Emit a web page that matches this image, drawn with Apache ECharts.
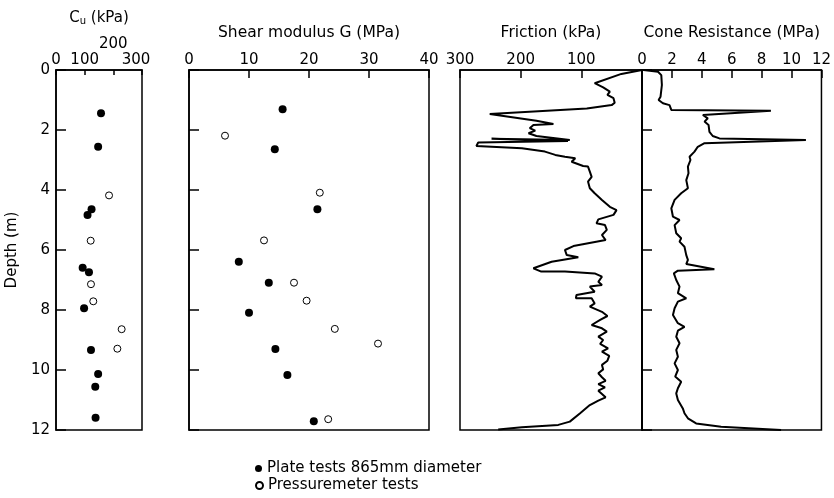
<!DOCTYPE html>
<html>
<head>
<meta charset="utf-8">
<title>Depth profiles</title>
<script src="https://cdn.jsdelivr.net/npm/echarts@6/dist/echarts.min.js"></script>
<style>
  html, body { margin: 0; padding: 0; background: #fff; }
  #chart { width: 834px; height: 498px; }
</style>
</head>
<body>
<div id="chart"></div>
<script>
// undrained shear strength Cu (kPa) vs depth (m)
var cuPlateDepth = [1.44, 2.56, 4.64, 4.83, 6.59, 6.74, 7.94, 9.33, 10.13, 10.56, 11.59];
var cuPlate = [157, 147, 124, 110, 93, 115, 98, 122, 147, 137, 138];
var cuPressDepth = [4.18, 5.69, 7.14, 7.71, 8.64, 9.29];
var cuPress = [185, 121, 122, 130, 229, 214];

// shear modulus G (MPa)
var gPlateDepth = [1.31, 2.64, 4.64, 6.39, 7.09, 8.09, 9.3, 10.17, 11.71];
var gPlate = [15.6, 14.3, 21.4, 8.3, 13.3, 10.0, 14.4, 16.4, 20.8];
var gPressDepth = [2.19, 4.09, 5.68, 7.09, 7.69, 8.63, 9.12, 11.64];
var gPress = [6.0, 21.8, 12.5, 17.5, 19.6, 24.3, 31.5, 23.2];

// sleeve friction (kPa)
var frictionDepth = [0, 0.13, 0.44, 0.58, 0.72, 0.83, 0.94, 1.09, 1.17, 1.28, 1.47, 1.69, 1.80, 1.83, 1.94,
  2.02, 2.11, 2.20, 2.33, 2.29, 2.37, 2.42, 2.53, 2.61, 2.72, 2.83, 2.89, 2.94, 3.06, 3.20, 3.22, 3.39,
  3.56, 3.72, 3.94, 4.11, 4.33, 4.56, 4.67, 4.83, 4.98, 5.11, 5.17, 5.33, 5.50, 5.67, 5.87, 6.00, 6.17,
  6.24, 6.39, 6.61, 6.72, 6.72, 6.78, 6.89, 7.06, 7.17, 7.22, 7.39, 7.50, 7.61, 7.61, 7.78, 7.89, 8.06,
  8.20, 8.33, 8.50, 8.61, 8.72, 8.89, 9.00, 9.13, 9.28, 9.39, 9.53, 9.69, 9.83, 9.98, 10.11, 10.24, 10.36,
  10.47, 10.58, 10.69, 10.80, 10.91, 11.02, 11.17, 11.44, 11.72, 11.83, 11.91, 11.98];
var friction = [0, 34, 78, 64, 53, 57, 47, 45, 50, 91, 251, 174, 146, 179, 185,
  176, 187, 174, 119, 248, 122, 270, 273, 198, 160, 143, 127, 110, 116, 97, 89, 86,
  83, 89, 86, 78, 66, 53, 42, 47, 72, 75, 61, 58, 66, 60, 113, 127, 124,
  105, 149, 179, 166, 127, 78, 66, 72, 66, 86, 78, 108, 109, 83, 78, 86, 66,
  57, 69, 83, 66, 58, 72, 64, 69, 56, 66, 54, 57, 66, 64, 72, 66, 60,
  72, 61, 72, 66, 60, 72, 86, 102, 119, 138, 198, 237];

// cone resistance (MPa)
var coneDepth = [0, 0.06, 0.17, 0.5, 0.89, 1.0, 1.11, 1.17, 1.33, 1.36, 1.5, 1.61, 1.72, 1.83, 2.06, 2.2,
  2.28, 2.33, 2.44, 2.56, 2.72, 2.89, 3.0, 3.22, 3.44, 3.67, 3.94, 4.11, 4.33, 4.61, 4.89, 5.0, 5.17,
  5.44, 5.61, 5.72, 5.89, 6.17, 6.33, 6.47, 6.64, 6.69, 6.78, 7.0, 7.22, 7.44, 7.61, 7.72, 7.94, 8.17,
  8.44, 8.56, 8.69, 8.89, 9.11, 9.33, 9.56, 9.78, 10.0, 10.22, 10.39, 10.61, 10.78, 11.0, 11.28, 11.44,
  11.61, 11.78, 11.89, 12.0];
var cone = [0.1, 1.07, 1.29, 1.33, 1.24, 1.11, 1.4, 1.84, 1.96, 8.62, 4.07, 4.4, 4.18, 4.45, 4.51, 4.73,
  5.18, 10.96, 4.18, 3.73, 3.51, 3.18, 3.24, 3.07, 3.11, 2.96, 3.07, 2.62, 2.18, 1.96, 2.07, 2.51, 2.18,
  2.29, 2.62, 2.51, 2.84, 2.96, 3.07, 2.96, 4.84, 2.4, 2.13, 2.29, 2.51, 2.4, 2.96, 2.4, 2.18, 2.07,
  2.4, 2.84, 2.4, 2.29, 2.51, 2.29, 2.4, 2.18, 2.4, 2.22, 2.62, 2.4, 2.29, 2.4, 2.73, 2.84,
  3.07, 3.62, 5.29, 9.3];

var plateName = 'Plate tests 865mm diameter';
var pressName = 'Pressuremeter tests';

var font = 'DejaVu Sans';

function pairs(xs, ys) {
  return xs.map(function (x, i) { return [x, ys[i]]; });
}

function depthAxis(i) {
  return {
    gridIndex: i,
    type: 'value',
    min: 0,
    max: 12,
    interval: 2,
    inverse: true,
    name: i === 0 ? 'Depth (m)' : '',
    nameLocation: 'middle',
    nameGap: 36,
    nameTextStyle: {color: '#000', fontSize: 15, fontFamily: font},
    axisLine: {show: true, lineStyle: {color: '#000', width: 1.5}},
    axisTick: {show: true, inside: true, length: 10, lineStyle: {color: '#000', width: 1.5}},
    axisLabel: {
      show: i === 0, color: '#000', fontSize: 15, fontFamily: font, margin: 6,
      showMinLabel: true, showMaxLabel: true, hideOverlap: false
    },
    splitLine: {show: false}
  };
}

function topAxis(i, opts) {
  var axis = {
    gridIndex: i,
    type: 'value',
    position: 'top',
    nameLocation: 'middle',
    nameGap: 29,
    nameTextStyle: {color: '#000', fontSize: 15.5, fontFamily: font},
    axisLine: {show: true, lineStyle: {color: '#000', width: 1.5}},
    axisTick: {show: true, inside: true, length: 8, lineStyle: {color: '#000', width: 1.5}},
    axisLabel: {
      color: '#000', fontSize: 15, fontFamily: font, margin: 2,
      showMinLabel: true, showMaxLabel: true, hideOverlap: false
    },
    splitLine: {show: false}
  };
  return Object.assign(axis, opts);
}

function gridBox(left, width) {
  return {left: left, width: width, top: 70, height: 360, show: true, borderColor: '#000', borderWidth: 1.5};
}

var chart = echarts.init(document.getElementById('chart'));

chart.setOption({
  animation: false,
  backgroundColor: '#fff',
  grid: [
    gridBox(56, 86),
    gridBox(189, 240),
    gridBox(460, 182),
    gridBox(642, 180)
  ],
  xAxis: [
    topAxis(0, {
      min: 0, max: 300, interval: 100,
      name: '{a|C}{s|u}{a| (kPa)}',
      nameGap: 44,
      nameTextStyle: {
        rich: {
          a: {color: '#000', fontSize: 15, fontFamily: font},
          s: {color: '#000', fontSize: 10, fontFamily: font, verticalAlign: 'bottom'}
        }
      },
      axisTick: {show: true, inside: true, length: 5, lineStyle: {color: '#000', width: 1.5}},
      axisLabel: {
        color: '#000', fontSize: 15, fontFamily: font, margin: 2,
        showMinLabel: true, showMaxLabel: true, hideOverlap: false,
        formatter: function (v) {
          if (v === 200) return '{up|200}';
          if (v === 300) return '{r|300}';
          return v;
        },
        rich: {
          up: {color: '#000', fontSize: 15, fontFamily: font, padding: [0, 0, 16, 0]},
          r: {color: '#000', fontSize: 15, fontFamily: font, padding: [0, 12, 0, 0]}
        }
      }
    }),
    topAxis(1, {min: 0, max: 40, interval: 10, name: 'Shear modulus G (MPa)'}),
    topAxis(2, {
      min: 0, max: 300, interval: 100, inverse: true, name: 'Friction (kPa)',
      axisLabel: {
        color: '#000', fontSize: 15, fontFamily: font, margin: 2,
        showMinLabel: true, showMaxLabel: true, hideOverlap: false,
        formatter: function (v) { return v === 0 ? '' : v; }
      }
    }),
    topAxis(3, {min: 0, max: 12, interval: 2, name: 'Cone Resistance (MPa)'})
  ],
  yAxis: [depthAxis(0), depthAxis(1), depthAxis(2), depthAxis(3)],
  legend: [
    {
      data: [plateName], left: 250, top: 456, itemWidth: 7, itemHeight: 7,
      textStyle: {color: '#000', fontSize: 15, fontFamily: font}
    },
    {
      data: [pressName], left: 250, top: 473, itemWidth: 7, itemHeight: 7,
      textStyle: {color: '#000', fontSize: 15, fontFamily: font}
    }
  ],
  series: [
    {
      name: plateName, type: 'scatter', xAxisIndex: 0, yAxisIndex: 0,
      symbol: 'circle', symbolSize: 8,
      itemStyle: {color: '#000', opacity: 1},
      data: pairs(cuPlate, cuPlateDepth)
    },
    {
      name: pressName, type: 'scatter', xAxisIndex: 0, yAxisIndex: 0,
      symbol: 'circle', symbolSize: 7,
      itemStyle: {color: '#fff', borderColor: '#000', borderWidth: 1, opacity: 1},
      data: pairs(cuPress, cuPressDepth)
    },
    {
      name: plateName, type: 'scatter', xAxisIndex: 1, yAxisIndex: 1,
      symbol: 'circle', symbolSize: 8,
      itemStyle: {color: '#000', opacity: 1},
      data: pairs(gPlate, gPlateDepth)
    },
    {
      name: pressName, type: 'scatter', xAxisIndex: 1, yAxisIndex: 1,
      symbol: 'circle', symbolSize: 7,
      itemStyle: {color: '#fff', borderColor: '#000', borderWidth: 1, opacity: 1},
      data: pairs(gPress, gPressDepth)
    },
    {
      name: 'Friction', type: 'line', xAxisIndex: 2, yAxisIndex: 2,
      showSymbol: false, symbol: 'none',
      lineStyle: {color: '#000', width: 2},
      data: pairs(friction, frictionDepth)
    },
    {
      name: 'Cone resistance', type: 'line', xAxisIndex: 3, yAxisIndex: 3,
      showSymbol: false, symbol: 'none',
      lineStyle: {color: '#000', width: 2},
      data: pairs(cone, coneDepth)
    }
  ]
});
</script>
</body>
</html>
